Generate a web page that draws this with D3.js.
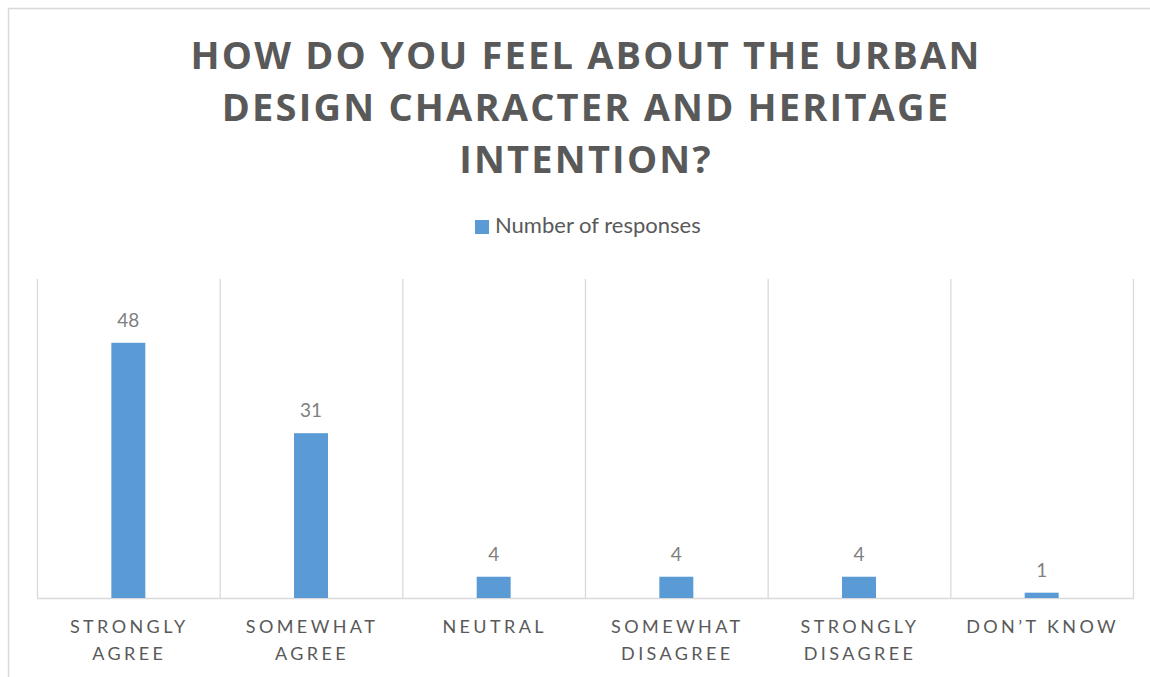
<!DOCTYPE html>
<html><head><meta charset="utf-8">
<script src="https://cdn.jsdelivr.net/npm/d3@7"></script>
<style>body{margin:0;background:#fff}svg{display:block}</style>
</head><body>
<svg id="c" width="1150" height="677"></svg>
<script>
const categories = [["STRONGLY","AGREE"],["SOMEWHAT","AGREE"],["NEUTRAL"],["SOMEWHAT","DISAGREE"],["STRONGLY","DISAGREE"],["DON’T KNOW"]];
const values = [48, 31, 4, 4, 4, 1];
const titleLines = ["HOW DO YOU FEEL ABOUT THE URBAN","DESIGN CHARACTER AND HERITAGE","INTENTION?"];
const seriesName = "Number of responses";
const yMax = 60;

const svg = d3.select("#c");
svg.append("rect").attr("x",8.5).attr("y",8.5).attr("width",1160).attr("height",700)
  .attr("fill","#fff").attr("stroke","#d9d9d9").attr("stroke-width",1.5);

const pLeft = 37, pRight = 1133, pTop = 279, pBase = 598;
const x = d3.scaleBand().domain(d3.range(categories.length)).range([pLeft,pRight]).paddingInner(0).paddingOuter(0);
const y = d3.scaleLinear().domain([0,yMax]).range([pBase,pTop]);

// title
const tFont = "'Open Sans', sans-serif";
titleLines.forEach((t,i)=>{
  svg.append("text").attr("x",586).attr("y",69+i*52).attr("text-anchor","middle")
    .attr("font-family",tFont).attr("font-weight","bold").attr("font-size",38)
    .attr("letter-spacing","2.2px").attr("fill","#595959").text(t);
});

// legend
const lf = "Lato, 'Noto Sans', sans-serif";
svg.append("rect").attr("x",475).attr("y",220).attr("width",14).attr("height",14).attr("fill","#5b9bd5");
svg.append("text").attr("x",495).attr("y",233).attr("font-family",lf).attr("font-size",22)
  .attr("fill","#595959").text(seriesName);

// vertical dividers
const g = svg.append("g");
const edges = d3.range(categories.length+1).map(i => i<categories.length ? x(i) : pRight);
g.selectAll("line.v").data(edges).join("line").attr("class","v")
  .attr("x1",d=>d+0.5).attr("x2",d=>d+0.5).attr("y1",pTop).attr("y2",pBase)
  .attr("stroke","#d9d9d9").attr("stroke-width",1.3);
g.append("line").attr("x1",pLeft).attr("x2",pRight+1).attr("y1",pBase+0.5).attr("y2",pBase+0.5)
  .attr("stroke","#d9d9d9").attr("stroke-width",1.3);

// bars
const bw = x.bandwidth()*0.186;
g.selectAll("rect.bar").data(values).join("rect").attr("class","bar")
  .attr("x",(d,i)=>x(i)+x.bandwidth()/2-bw/2).attr("width",bw)
  .attr("y",d=>y(d)).attr("height",d=>pBase-y(d)).attr("fill","#5b9bd5");

// value labels
g.selectAll("text.val").data(values).join("text").attr("class","val")
  .attr("x",(d,i)=>x(i)+x.bandwidth()/2).attr("y",d=>y(d)-16)
  .attr("text-anchor","middle").attr("font-family",lf).attr("font-size",19)
  .attr("fill","#7f7f7f").text(d=>d);

// category labels
categories.forEach((lines,i)=>{
  lines.forEach((t,j)=>{
    svg.append("text").attr("x",x(i)+x.bandwidth()/2+1).attr("y",633+j*27)
      .attr("text-anchor","middle").attr("font-family",lf).attr("font-size",18)
      .attr("letter-spacing","3.4px").attr("fill","#595959").text(t);
  });
});
</script>
</body></html>
